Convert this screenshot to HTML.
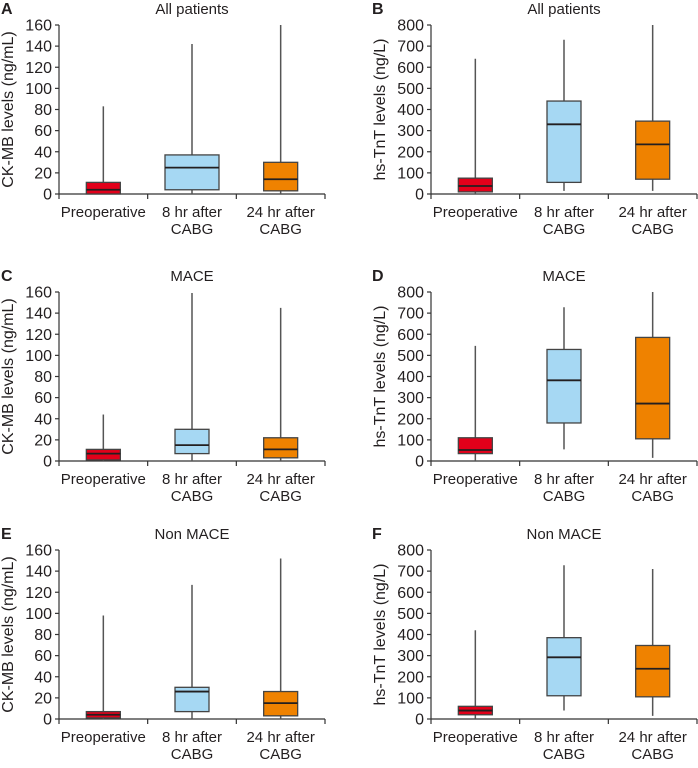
<!DOCTYPE html>
<html><head><meta charset="utf-8"><style>
html,body{margin:0;padding:0;background:#fff;width:698px;height:768px;overflow:hidden}
svg text{font-family:"Liberation Sans",sans-serif;fill:#231f20}
</style></head><body>
<svg id="fig" width="698" height="768" xmlns="http://www.w3.org/2000/svg"></svg>
<script>
const categories=["Preoperative","8 hr after|CABG","24 hr after|CABG"];
const panelLetters=["A","B","C","D","E","F"];
const panelTitles=["All patients","All patients","MACE","MACE","Non MACE","Non MACE"];
const ckTicks=[0,20,40,60,80,100,120,140,160];
const tntTicks=[0,100,200,300,400,500,600,700,800];
// each box: [min,q1,median,q3,max]
const dataA=[[0,0,4,11,83],[0,4,25,37,142],[0,3,14,30,160]];
const dataB=[[0,10,38,75,640],[15,55,330,440,730],[15,70,235,345,800]];
const dataC=[[0,1,7,11,44],[0,7,15,30,159],[0,3,11,22,145]];
const dataD=[[0,35,52,110,545],[55,180,382,528,728],[15,105,272,585,800]];
const dataE=[[0,1,4,7,98],[0,7,26,30,127],[0,3,15,26,152]];
const dataF=[[0,20,40,60,420],[40,110,292,385,728],[15,105,238,348,710]];
const colors=["#e2001a","#a6d8f3","#ef8200"];

const NS="http://www.w3.org/2000/svg";
const svg=document.getElementById("fig");
function mk(tag,attrs,parent){const e=document.createElementNS(NS,tag);for(const k in attrs)e.setAttribute(k,attrs[k]);(parent||svg).appendChild(e);return e;}

const panels=[
 {d:dataA,ticks:ckTicks,ax:59,top:25,ylab:"CK-MB levels (ng/mL)"},
 {d:dataB,ticks:tntTicks,ax:431,top:25,ylab:"hs-TnT levels (ng/L)"},
 {d:dataC,ticks:ckTicks,ax:59,top:292,ylab:"CK-MB levels (ng/mL)"},
 {d:dataD,ticks:tntTicks,ax:431,top:292,ylab:"hs-TnT levels (ng/L)"},
 {d:dataE,ticks:ckTicks,ax:59,top:550,ylab:"CK-MB levels (ng/mL)"},
 {d:dataF,ticks:tntTicks,ax:431,top:550,ylab:"hs-TnT levels (ng/L)"}
];
panels.forEach((p,pi)=>{
  const g=mk("g",{});
  
  
  const H=169, W=266, bottom=p.top+H;
  const maxV=p.ticks[p.ticks.length-1];
  const y=v=>bottom-v/maxV*H;
  const x=i=>p.ax+W*(i+0.5)/categories.length;
  const L=mk("text",{x:pi%2?372:1,y:p.top-11,"font-size":"16","font-weight":"bold"},g);
  
  L.textContent=panelLetters[pi];
  const T=mk("text",{x:p.ax+W/2,y:p.top-11,"font-size":"15","text-anchor":"middle"},g);
  
  T.textContent=panelTitles[pi];
  const ya=mk("line",{x1:p.ax,x2:p.ax,y1:p.top,y2:bottom,stroke:"#333","stroke-width":"1.2"},g);
  
  p.ticks.forEach(t=>{
    mk("line",{x1:p.ax-4,x2:p.ax,y1:y(t),y2:y(t),stroke:"#333","stroke-width":"1.2"},g);
    const tl=mk("text",{x:p.ax-7,y:y(t)+5.5,"font-size":"16","text-anchor":"end"},g);
    
    tl.textContent=t;
  });
  const yl=mk("text",{x:0,y:0,"font-size":"16","text-anchor":"middle",transform:`translate(${p.ax-46},${p.top+H/2}) rotate(-90)`},g);
  
  yl.textContent=p.ylab;
  const xa=mk("line",{x1:p.ax,x2:p.ax+W,y1:bottom,y2:bottom,stroke:"#333","stroke-width":"1.2"},g);
  
  for(let i=0;i<=categories.length;i++){
    const tx=p.ax+W*i/categories.length;
    mk("line",{x1:tx,x2:tx,y1:bottom,y2:bottom+5,stroke:"#333","stroke-width":"1.2"},g);
  }
  categories.forEach((c,i)=>{
    c.split("|").forEach((ln,j)=>{
      const t=mk("text",{x:x(i),y:bottom+23+j*17,"font-size":"15","text-anchor":"middle"},g);
      
      t.textContent=ln;
    });
  });
  p.d.forEach((b,i)=>{
    const bw=(pi===0&&i===1)?54:34;
    const cx=x(i);
    const w=mk("line",{x1:cx,x2:cx,y1:y(b[4]),y2:y(b[0]),stroke:"#555","stroke-width":"1.5"},g);
    
    const r=mk("rect",{x:cx-bw/2,y:y(b[3]),width:bw,height:Math.max(1,y(b[1])-y(b[3])),fill:colors[i],stroke:"#444","stroke-width":"1.3"},g);
    
    const m=mk("line",{x1:cx-bw/2,x2:cx+bw/2,y1:y(b[2]),y2:y(b[2]),stroke:"#231f20","stroke-width":"1.8"},g);
    
  });
});
</script>
</body></html>
